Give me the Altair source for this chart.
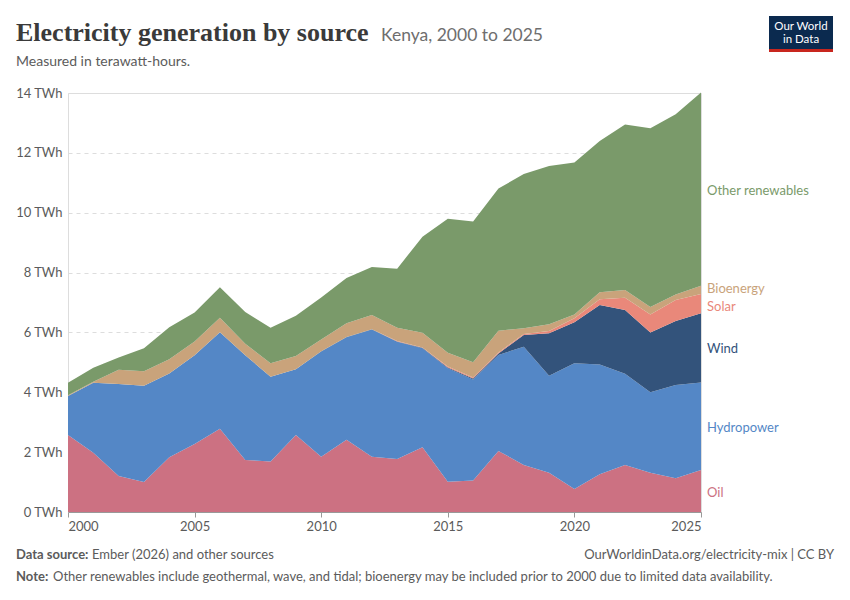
import altair as alt
import pandas as pd

years = list(range(2000, 2026))
sources = ["Oil", "Hydropower", "Wind", "Solar", "Bioenergy", "Other renewables"]
colors = ["#cc7182", "#5487c6", "#33537b", "#e9887a", "#c9a37b", "#7a9a6a"]
label_colors = ["#c34a63", "#3a73c4", "#1c3a6a", "#e0675a", "#b58a5c", "#56834a"]

oil = [2.57, 1.98, 1.20, 1.00, 1.83, 2.27, 2.78, 1.74, 1.69, 2.57, 1.85, 2.41, 1.85,
       1.77, 2.16, 1.01, 1.05, 2.04, 1.57, 1.31, 0.77, 1.26, 1.57, 1.31, 1.13, 1.40]
hydro = [1.31, 2.34, 3.08, 3.22, 2.80, 2.97, 3.23, 3.50, 2.83, 2.20, 3.51, 3.43, 4.25,
         3.92, 3.31, 3.79, 3.38, 3.21, 3.95, 3.24, 4.20, 3.67, 3.05, 2.69, 3.11, 2.93]
wind = [0, 0, 0, 0, 0, 0, 0, 0, 0, 0, 0.01, 0.01, 0.01,
        0.01, 0.02, 0.03, 0.03, 0.05, 0.39, 1.42, 1.37, 1.99, 2.13, 2.00, 2.14, 2.31]
solar = [0, 0, 0, 0, 0, 0, 0, 0, 0, 0, 0, 0, 0,
         0.01, 0.01, 0.03, 0.03, 0.03, 0.04, 0.08, 0.13, 0.19, 0.41, 0.60, 0.70, 0.64]
bio = [0.02, 0.03, 0.47, 0.48, 0.47, 0.46, 0.48, 0.38, 0.45, 0.44, 0.39, 0.46, 0.47,
       0.45, 0.49, 0.46, 0.51, 0.73, 0.19, 0.22, 0.13, 0.23, 0.26, 0.25, 0.19, 0.28]
other = [0.42, 0.47, 0.41, 0.77, 1.07, 0.97, 1.02, 1.06, 1.19, 1.35, 1.41, 1.51, 1.61,
         1.97, 3.21, 4.48, 4.71, 4.75, 5.15, 5.29, 5.08, 5.06, 5.53, 5.97, 6.02, 6.46]
series = [oil, hydro, wind, solar, bio, other]

y_ticks = [0, 2, 4, 6, 8, 10, 12, 14]
x_ticks = [2000, 2005, 2010, 2015, 2020, 2025]

rows = []
for k, (name, vals) in enumerate(zip(sources, series)):
    for yr, v in zip(years, vals):
        rows.append({"year": yr, "source": name, "value": v, "order": k})
df = pd.DataFrame(rows)

# label positions: middle of each band in the last year, pushed apart if too close
mids = []
base = 0.0
for vals in series:
    mids.append(base + vals[-1] / 2)
    base += vals[-1]
MIN_GAP = 0.6  # TWh, about one text line
for _ in range(20):
    for i in range(len(mids) - 1):
        gap = mids[i + 1] - mids[i]
        if gap < MIN_GAP:
            shift = (MIN_GAP - gap) / 2
            mids[i] -= shift
            mids[i + 1] += shift
labels_df = pd.DataFrame({"source": sources, "mid": mids})

W, H = 633, 419
FONT = "Lato"

color_scale = alt.Scale(domain=sources, range=colors)
y_scale = alt.Scale(domain=[0, 14], nice=False)

area = alt.Chart(df).mark_area(interpolate="linear").encode(
    x=alt.X("year:Q", scale=alt.Scale(domain=[2000, 2025], nice=False, zero=False),
            axis=alt.Axis(values=x_ticks, format="d", title=None, grid=False,
                          labelFlush=True, tickSize=5, tickColor="#999999",
                          domainColor="#999999", labelColor="#5b5b5b",
                          labelFont=FONT, labelFontSize=13, labelPadding=3)),
    y=alt.Y("value:Q", stack="zero", scale=y_scale,
            axis=alt.Axis(values=y_ticks, title=None, labelExpr="datum.value + ' TWh'",
                          grid=True, gridDash=[4, 4], gridColor="#dddddd",
                          domain=False, ticks=False, labelColor="#5b5b5b",
                          labelFont=FONT, labelFontSize=13, labelPadding=6)),
    color=alt.Color("source:N", scale=color_scale, legend=None),
    order=alt.Order("order:Q", sort="ascending"),
)

labels = alt.Chart(labels_df).mark_text(
    align="left", baseline="middle", font=FONT, fontSize=13, dy=1.5
).encode(
    x=alt.value(W + 6),
    y=alt.Y("mid:Q", scale=y_scale),
    text="source:N",
    color=alt.Color("source:N", scale=alt.Scale(domain=sources, range=label_colors), legend=None),
)


def txt(s, x, y, size=13, color="#5b5b5b", weight="normal", font=FONT, align="left"):
    return alt.Chart(pd.DataFrame({"a": [0]})).mark_text(
        text=s, align=align, baseline="alphabetic", fontSize=size, color=color,
        fontWeight=weight, font=font
    ).encode(x=alt.value(x), y=alt.value(y))


def rect(x, x2, y, y2, color):
    return alt.Chart(pd.DataFrame({"a": [0]})).mark_rect(color=color).encode(
        x=alt.value(x), x2=alt.value(x2), y=alt.value(y), y2=alt.value(y2))


title = txt("Electricity generation by source", -52, -52, size=26, color="#3a3a3a",
            weight="bold", font="Liberation Serif")
subtitle = txt("Kenya, 2000 to 2025", 313, -52, size=17.5, color="#6e6e6e")
desc = txt("Measured in terawatt-hours.", -52, -27, size=14, color="#5b5b5b")

logo_bg = rect(701, 765, -77, -44, "#0b2a4f")
logo_red = rect(701, 765, -44, -41, "#c8261e")
logo_t1 = txt("Our World", 733, -63, size=11.5, color="#ffffff", align="center")
logo_t2 = txt("in Data", 733, -50, size=11.5, color="#ffffff", align="center")

src_b = txt("Data source:", -52, 466, size=13, weight="bold")
src = txt("Ember (2026) and other sources", 24, 466, size=13)
url = txt("OurWorldinData.org/electricity-mix | CC BY", 766, 466, size=13, align="right")
note_b = txt("Note:", -52, 488, size=13, weight="bold")
note = txt("Other renewables include geothermal, wave, and tidal; bioenergy may be included "
           "prior to 2000 due to limited data availability.", -15, 488, size=13)

chart = alt.layer(
    area, labels, title, subtitle, desc, logo_bg, logo_red, logo_t1, logo_t2,
    src_b, src, url, note_b, note
).properties(
    width=W, height=H,
    autosize=alt.AutoSizeParams(type="none"),
    padding={"left": 60, "top": 85, "right": 141, "bottom": 80},
).configure_view(stroke=None).configure(background="#ffffff")

chart.save("out.html", embed_options={"renderer": "svg", "actions": False})
